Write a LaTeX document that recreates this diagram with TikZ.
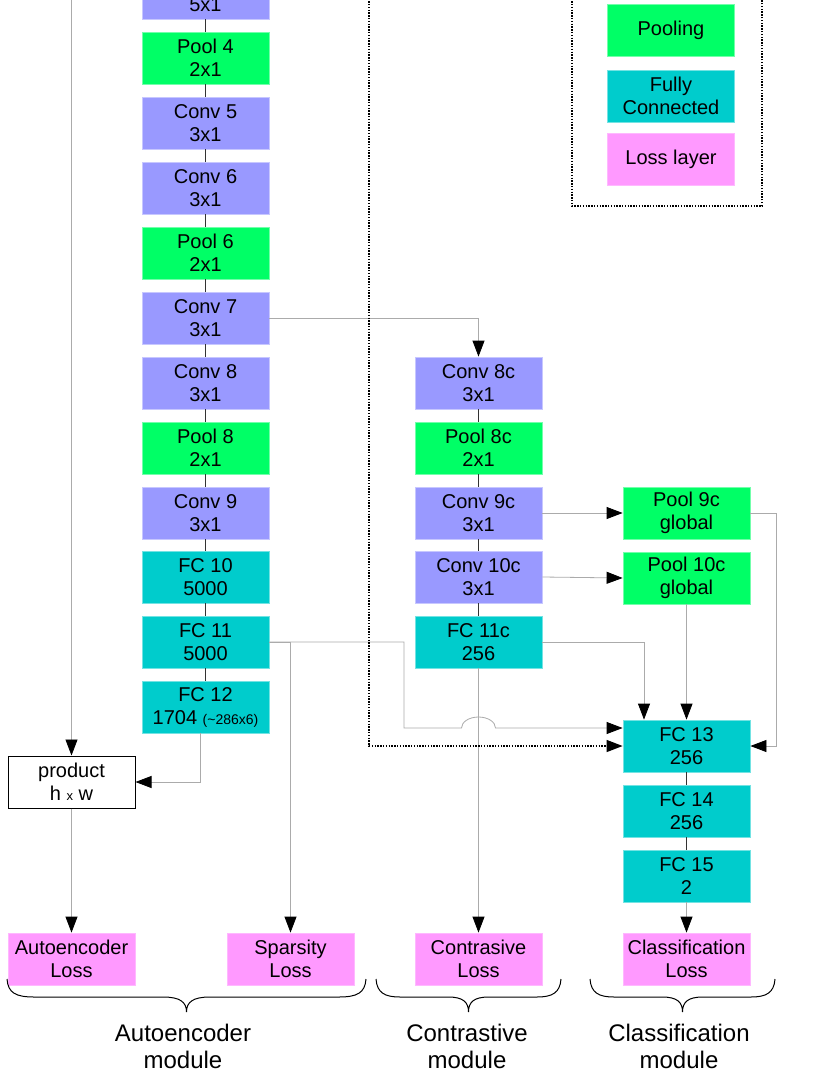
\documentclass[tikz,border=0pt]{standalone}
\usepackage{fontspec}
\setmainfont{Liberation Sans}
\usetikzlibrary{arrows.meta}
\definecolor{convc}{HTML}{9999FF}
\definecolor{poolc}{HTML}{00FF66}
\definecolor{fcc}{HTML}{00CCCC}
\definecolor{lossc}{HTML}{FF99FF}
\definecolor{linec}{HTML}{ABABAB}
\tikzset{
  layer/.style={minimum width=127pt, minimum height=52pt, inner sep=0pt, align=center,
    font=\fontsize{20}{23}\selectfont, line width=0.8pt},
  conv/.style={layer, fill=convc, draw=convc!55!white},
  pool/.style={layer, fill=poolc, draw=poolc!55!white},
  fc/.style={layer, fill=fcc, draw=fcc!55!white},
  loss/.style={layer, fill=lossc, draw=lossc!70!white},
  plain/.style={layer, fill=white, draw=black, line width=1pt},
  chain/.style={draw=black!80, line width=0.9pt},
  conn/.style={draw=linec, line width=0.8pt},
  arr/.style={conn, -{Triangle[length=16pt,width=12pt,black]}},
  dotline/.style={draw=black, line width=1.3pt, dash pattern=on 1.4pt off 1.4pt},
  brc/.style={draw=black, line width=1pt},
  modlabel/.style={align=center, font=\fontsize{24}{27}\selectfont, inner sep=0pt}
}
\begin{document}
\begin{tikzpicture}[x=1pt,y=-1pt]
\clip (0,0) rectangle (830,1075);
\fill[white] (0,0) rectangle (830,1075);

% left column
\node[conv] (c4) at (205.5,-7) {Conv 4\\5x1};
\node[pool] (p4) at (205.5,58) {Pool 4\\2x1};
\node[conv] (c5) at (205.5,123) {Conv 5\\3x1};
\node[conv] (c6) at (205.5,188) {Conv 6\\3x1};
\node[pool] (p6) at (205.5,253) {Pool 6\\2x1};
\node[conv] (c7) at (205.5,318) {Conv 7\\3x1};
\node[conv] (c8) at (205.5,383) {Conv 8\\3x1};
\node[pool] (p8) at (205.5,448) {Pool 8\\2x1};
\node[conv] (c9) at (205.5,513) {Conv 9\\3x1};
\node[fc] (f10) at (205.5,577) {FC 10\\5000};
\node[fc] (f11) at (205.5,642) {FC 11\\5000};
\node[fc] (f12) at (205.5,707) {FC 12\\1704 {\fontsize{14}{16}\selectfont(\textasciitilde286x6)}};

% middle column
\node[conv] (c8c) at (478.5,383) {Conv 8c\\3x1};
\node[pool] (p8c) at (478.5,448) {Pool 8c\\2x1};
\node[conv] (c9c) at (478.5,513) {Conv 9c\\3x1};
\node[conv] (c10c) at (478.5,577) {Conv 10c\\3x1};
\node[fc] (f11c) at (478.5,642) {FC 11c\\256};

% right column
\node[pool] (p9c) at (686.5,513) {Pool 9c\\global};
\node[pool] (p10c) at (686.5,578) {Pool 10c\\global};
\node[fc] (f13) at (686.5,746) {FC 13\\256};
\node[fc] (f14) at (686.5,811) {FC 14\\256};
\node[fc] (f15) at (686.5,876) {FC 15\\2};

% product
\node[plain] (prod) at (71.5,782) {product\\h {\fontsize{13}{15}\selectfont x} w};

% losses
\node[loss] (lae) at (71.5,959) {Autoencoder\\Loss};
\node[loss] (lsp) at (290.5,959) {Sparsity\\Loss};
\node[loss] (lco) at (478.5,959) {Contrasive\\Loss};
\node[loss] (lcl) at (686.5,959) {Classification\\Loss};

% legend
\node[pool] (gpool) at (671,30) {Pooling};
\node[fc] (gfc) at (671,96) {Fully\\Connected};
\node[loss] (gloss) at (671,159) {Loss layer};
\draw[dotline] (572,-10) -- (572,206) -- (762,206) -- (762,-10);

% chains
\draw[chain] (c4) -- (p4) -- (c5) -- (c6) -- (p6) -- (c7) -- (c8) -- (p8) -- (c9) -- (f10) -- (f11) -- (f12);
\draw[chain] (c8c) -- (p8c) -- (c9c) -- (c10c) -- (f11c);
\draw[chain] (f13) -- (f14) -- (f15);

% connectors
\coordinate (topleft) at (71.5,-10);
\draw[arr] (topleft) -- (prod.north);
\draw[arr] (prod.south) -- (lae.north);
\draw[arr] ([xshift=-5.5pt]f12.south) |- (prod.east);
\draw[arr] (c7.east) -| (c8c.north);
\draw[arr] (f11.east) -| (lsp.north);
\draw[arr] (f11.east) -- (404,642) -- (404,728) -- (461.5,728)
   arc[start angle=180, end angle=0, x radius=17pt, y radius=11pt] -- (f13.west |- 0,728);
\draw[arr] (f11c.south) -- (lco.north);
\draw[arr] (c9c.east) -- (p9c.west);
\draw[arr] (c10c.east) -- (p10c.west);
\draw[arr] (f11c.east) -| ([xshift=-42.5pt]f13.north);
\draw[arr] (p10c.south) -- (f13.north);
\draw[arr] (p9c.east) -- (776.5,513) |- (f13.east);
\draw[arr] (f15.south) -- (lcl.north);
\coordinate (dtop) at (369,-10);
\draw[dotline, -{Triangle[length=16pt,width=12pt,black]}] (dtop) |- (f13.west);

% braces
\draw[brc] (7,979) .. controls (8,993) and (16,997) .. (34,997) -- (163,997)
  .. controls (180,997) and (186.5,1002) .. (186.5,1012)
  .. controls (186.5,1002) and (193,997) .. (210,997) -- (339,997)
  .. controls (357,997) and (365,993) .. (366,979);
\draw[brc] (376,979) .. controls (377,993) and (385,997) .. (400,997) -- (448,997)
  .. controls (463,997) and (468.5,1002) .. (468.5,1012)
  .. controls (468.5,1002) and (474,997) .. (489,997) -- (537,997)
  .. controls (552,997) and (560,993) .. (561,979);
\draw[brc] (590,979) .. controls (591,993) and (599,997) .. (614,997) -- (662,997)
  .. controls (677,997) and (682.5,1002) .. (682.5,1012)
  .. controls (682.5,1002) and (688,997) .. (703,997) -- (751,997)
  .. controls (766,997) and (774,993) .. (775,979);

\node[modlabel] (mae) at (183,1046) {Autoencoder\\module};
\node[modlabel] (mco) at (467,1046) {Contrastive\\module};
\node[modlabel] (mcl) at (679,1046) {Classification\\module};
\end{tikzpicture}
\end{document}
